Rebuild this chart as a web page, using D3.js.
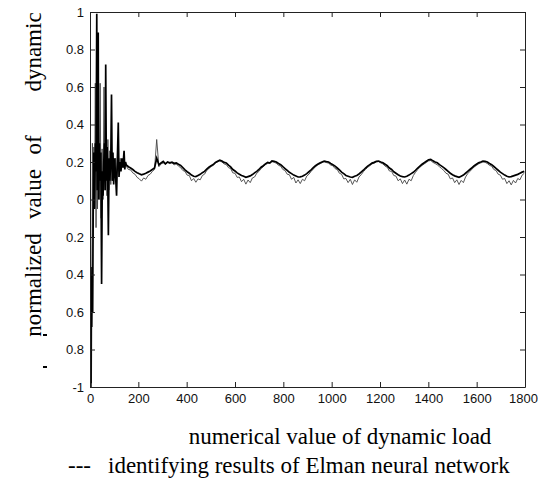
<!DOCTYPE html>
<html>
<head>
<meta charset="utf-8">
<script src="https://cdn.jsdelivr.net/npm/d3@7"></script>
<style>
    body { margin: 0; background: #fff; }
</style>
</head>
<body>
<div id="chart"></div>
<script>
// tick values and labels as printed in the figure (minus signs lost in the original)
const xTicks = [0, 200, 400, 600, 800, 1000, 1200, 1400, 1600, 1800];
const yTicks = [1, 0.8, 0.6, 0.4, 0.2, 0, -0.2, -0.4, -0.6, -0.8, -1];
const yTickLabels = ["1", "0.8", "0.6", "0.4", "0.2", "0", "0.2", "0.4", "0.6", "0.8", "-1"];

// start-up transient, [sample, value]
const thickEarly = [
    [0, 0.0], [2, -0.55], [4, -0.98], [5, -0.4], [7, -0.68], [9, -0.36], [11, -0.6], [13, -0.1],
    [16, 0.25], [19, -0.05], [22, 0.3], [25, 0.15], [28, 0.99], [30, 0.05], [32, 0.2], [34, 0.89],
    [36, 0.0], [39, 0.3], [42, 0.1], [45, 0.25], [48, -0.45], [51, 0.15], [54, 0.02], [57, 0.2],
    [60, 0.3], [63, 0.05], [65, 0.72], [68, 0.1], [71, 0.28], [74, 0.05], [76, -0.19], [79, 0.22],
    [82, 0.1], [86, 0.2], [89, 0.56], [92, 0.1], [95, 0.25], [98, 0.08], [102, 0.22], [106, 0.12],
    [110, 0.02], [113, 0.2], [117, 0.41], [120, 0.12], [124, 0.2], [128, 0.15], [132, 0.22],
    [136, 0.17], [141, 0.26], [144, 0.16], [147, 0.2]
];
const thinEarly = [
    [0, 0.0], [3, -0.7], [6, -1.0], [8, -0.5], [10, 0.3], [13, -0.2], [16, 0.28], [19, 0.0],
    [22, 0.62], [25, -0.15], [28, 0.3], [31, -0.05], [35, 0.3], [38, 0.0], [42, 0.62], [46, -0.1],
    [50, 0.27], [54, 0.0], [58, 0.6], [62, 0.05], [66, 0.28], [70, 0.02], [74, 0.32], [78, 0.05],
    [82, 0.26], [86, 0.08], [90, 0.25], [94, 0.1], [98, 0.22], [102, 0.12], [106, 0.22], [110, 0.14],
    [115, 0.2], [120, 0.15], [125, 0.22], [130, 0.16], [135, 0.2], [140, 0.17], [145, 0.19]
];

// steady part, one value every 9 samples from sample 150
const steadyStart = 150;
const steadyStep = 9;
const thickSteady = [
    0.185, 0.175, 0.168, 0.160, 0.150, 0.143, 0.137, 0.132, 0.135, 0.140, 0.146, 0.152,
    0.160, 0.168, 0.220, 0.185, 0.195, 0.203, 0.190, 0.200, 0.196, 0.199, 0.193, 0.195,
    0.188, 0.182, 0.170, 0.158, 0.148, 0.140, 0.130, 0.124, 0.122, 0.128, 0.134, 0.143,
    0.150, 0.162, 0.172, 0.180, 0.186, 0.198, 0.204, 0.210, 0.205, 0.198, 0.195, 0.183,
    0.174, 0.160, 0.152, 0.142, 0.135, 0.128, 0.124, 0.118, 0.122, 0.126, 0.133, 0.142,
    0.150, 0.160, 0.172, 0.180, 0.190, 0.198, 0.194, 0.206, 0.204, 0.200, 0.192, 0.186,
    0.175, 0.165, 0.155, 0.145, 0.138, 0.130, 0.125, 0.120, 0.121, 0.124, 0.130, 0.138,
    0.148, 0.158, 0.170, 0.180, 0.188, 0.195, 0.200, 0.205, 0.202, 0.200, 0.192, 0.186,
    0.178, 0.168, 0.158, 0.146, 0.138, 0.128, 0.124, 0.120, 0.118, 0.124, 0.128, 0.136,
    0.146, 0.156, 0.168, 0.178, 0.186, 0.194, 0.198, 0.204, 0.205, 0.200, 0.196, 0.188,
    0.180, 0.168, 0.160, 0.148, 0.140, 0.132, 0.125, 0.122, 0.120, 0.124, 0.130, 0.138,
    0.145, 0.156, 0.168, 0.178, 0.188, 0.196, 0.204, 0.212, 0.214, 0.206, 0.200, 0.196,
    0.186, 0.178, 0.170, 0.160, 0.150, 0.140, 0.132, 0.126, 0.122, 0.118, 0.124, 0.130,
    0.140, 0.150, 0.160, 0.170, 0.180, 0.188, 0.196, 0.200, 0.205, 0.204, 0.200, 0.192,
    0.186, 0.176, 0.166, 0.156, 0.146, 0.138, 0.130, 0.124, 0.120, 0.122, 0.126, 0.130,
    0.134, 0.140, 0.146, 0.150
];
const thinSteady = [
    0.178, 0.160, 0.158, 0.142, 0.135, 0.118, 0.110, 0.098, 0.115, 0.108, 0.128, 0.135,
    0.150, 0.160, 0.320, 0.175, 0.190, 0.195, 0.188, 0.198, 0.192, 0.196, 0.185, 0.190,
    0.178, 0.170, 0.155, 0.150, 0.130, 0.128, 0.100, 0.112, 0.092, 0.110, 0.105, 0.128,
    0.135, 0.155, 0.165, 0.176, 0.182, 0.195, 0.200, 0.206, 0.200, 0.190, 0.186, 0.170,
    0.165, 0.142, 0.140, 0.118, 0.120, 0.095, 0.108, 0.082, 0.104, 0.090, 0.115, 0.120,
    0.140, 0.150, 0.165, 0.175, 0.186, 0.192, 0.196, 0.202, 0.198, 0.194, 0.182, 0.178,
    0.160, 0.155, 0.135, 0.132, 0.108, 0.118, 0.088, 0.105, 0.085, 0.108, 0.100, 0.125,
    0.135, 0.150, 0.162, 0.175, 0.184, 0.190, 0.196, 0.202, 0.197, 0.194, 0.184, 0.180,
    0.165, 0.160, 0.140, 0.135, 0.110, 0.112, 0.090, 0.108, 0.080, 0.105, 0.092, 0.120,
    0.132, 0.148, 0.160, 0.172, 0.180, 0.190, 0.194, 0.200, 0.202, 0.195, 0.190, 0.178,
    0.172, 0.152, 0.150, 0.128, 0.125, 0.100, 0.110, 0.085, 0.104, 0.082, 0.108, 0.100,
    0.128, 0.145, 0.160, 0.172, 0.182, 0.190, 0.198, 0.206, 0.208, 0.198, 0.192, 0.185,
    0.175, 0.165, 0.155, 0.140, 0.135, 0.110, 0.115, 0.090, 0.105, 0.080, 0.102, 0.090,
    0.120, 0.138, 0.150, 0.162, 0.174, 0.182, 0.190, 0.195, 0.200, 0.198, 0.192, 0.182,
    0.178, 0.160, 0.155, 0.135, 0.130, 0.108, 0.112, 0.085, 0.100, 0.078, 0.102, 0.088,
    0.112, 0.105, 0.130, 0.140
];

const width = 538, height = 484;
const plot = { left: 90, right: 525, top: 12, bottom: 387 };
const serif = '"Liberation Serif", "Times New Roman", "DejaVu Serif", serif';
const sans = '"Liberation Sans", Arial, sans-serif';

const svg = d3.select('#chart').append('svg')
    .attr('width', width)
    .attr('height', height)
    .style('display', 'block');

const x = d3.scaleLinear().domain([0, 1800]).range([plot.left, plot.right]);
const y = d3.scaleLinear().domain([-1, 1]).range([plot.bottom, plot.top]);

function withSteady(early, steady) {
    return early.concat(steady.map((v, i) => [steadyStart + i * steadyStep, v]));
}
const thickData = withSteady(thickEarly, thickSteady);
const thinData = withSteady(thinEarly, thinSteady);

svg.append('clipPath').attr('id', 'plotclip')
    .append('rect')
    .attr('x', plot.left).attr('y', plot.top)
    .attr('width', plot.right - plot.left).attr('height', plot.bottom - plot.top);

const line = d3.line().x(d => x(d[0])).y(d => y(d[1]));

const lines = svg.append('g').attr('clip-path', 'url(#plotclip)');
lines.append('path')
    .datum(thinData)
    .attr('d', line)
    .attr('fill', 'none')
    .attr('stroke', '#444')
    .attr('stroke-width', 0.9);
lines.append('path')
    .datum(thickData)
    .attr('d', line)
    .attr('fill', 'none')
    .attr('stroke', '#000')
    .attr('stroke-width', 1.7);

// axes, ticks point inward like the original MATLAB box
const fmtY = d => yTickLabels[yTicks.indexOf(d)];

const gx = svg.append('g')
    .attr('transform', `translate(0,${plot.bottom})`)
    .call(d3.axisBottom(x).tickValues(xTicks).tickSize(-5).tickSizeOuter(0).tickPadding(7).tickFormat(d3.format('d')));
// the last label runs off the figure edge in the original, keep it just inside
gx.selectAll('.tick text').filter(d => d === 1800).attr('dx', -2);

svg.append('g')
    .attr('transform', `translate(0,${plot.top})`)
    .call(d3.axisTop(x).tickValues(xTicks).tickSize(-5).tickSizeOuter(0).tickFormat(''));
svg.append('g')
    .attr('transform', `translate(${plot.left},0)`)
    .call(d3.axisLeft(y).tickValues(yTicks).tickSize(-5).tickSizeOuter(0).tickPadding(6).tickFormat(fmtY));
svg.append('g')
    .attr('transform', `translate(${plot.right},0)`)
    .call(d3.axisRight(y).tickValues(yTicks).tickSize(-5).tickSizeOuter(0).tickFormat(''));

svg.selectAll('.domain').attr('stroke', '#222');
svg.selectAll('.tick line').attr('stroke', '#222');
svg.selectAll('.tick text')
    .style('font-family', sans)
    .style('font-size', '13px')
    .attr('fill', '#111');

// y axis title, words spread along the axis
const yWords = [
    { w: 'normalized', c: 285 },
    { w: 'value', c: 194 },
    { w: 'of', c: 145 },
    { w: 'dynamic', c: 52 }
];
yWords.forEach(d => {
    svg.append('text')
        .attr('transform', `translate(41,${d.c}) rotate(-90)`)
        .attr('text-anchor', 'middle')
        .style('font-family', serif)
        .style('font-size', '23px')
        .text(d.w);
});

svg.selectAll('.stray')
    .data([334, 366])
    .enter().append('rect')
    .attr('x', 43).attr('y', d => d)
    .attr('width', 4).attr('height', 2)
    .attr('fill', '#000');

svg.append('text')
    .attr('x', 340).attr('y', 444)
    .attr('text-anchor', 'middle')
    .style('font-family', serif)
    .style('font-size', '23px')
    .text('numerical value of dynamic load');

svg.append('text')
    .attr('x', 68).attr('y', 473)
    .style('font-family', serif)
    .style('font-size', '23px')
    .text('---');
svg.append('text')
    .attr('x', 108).attr('y', 473)
    .style('font-family', serif)
    .style('font-size', '23px')
    .text('identifying results of Elman neural network');
</script>
</body>
</html>
